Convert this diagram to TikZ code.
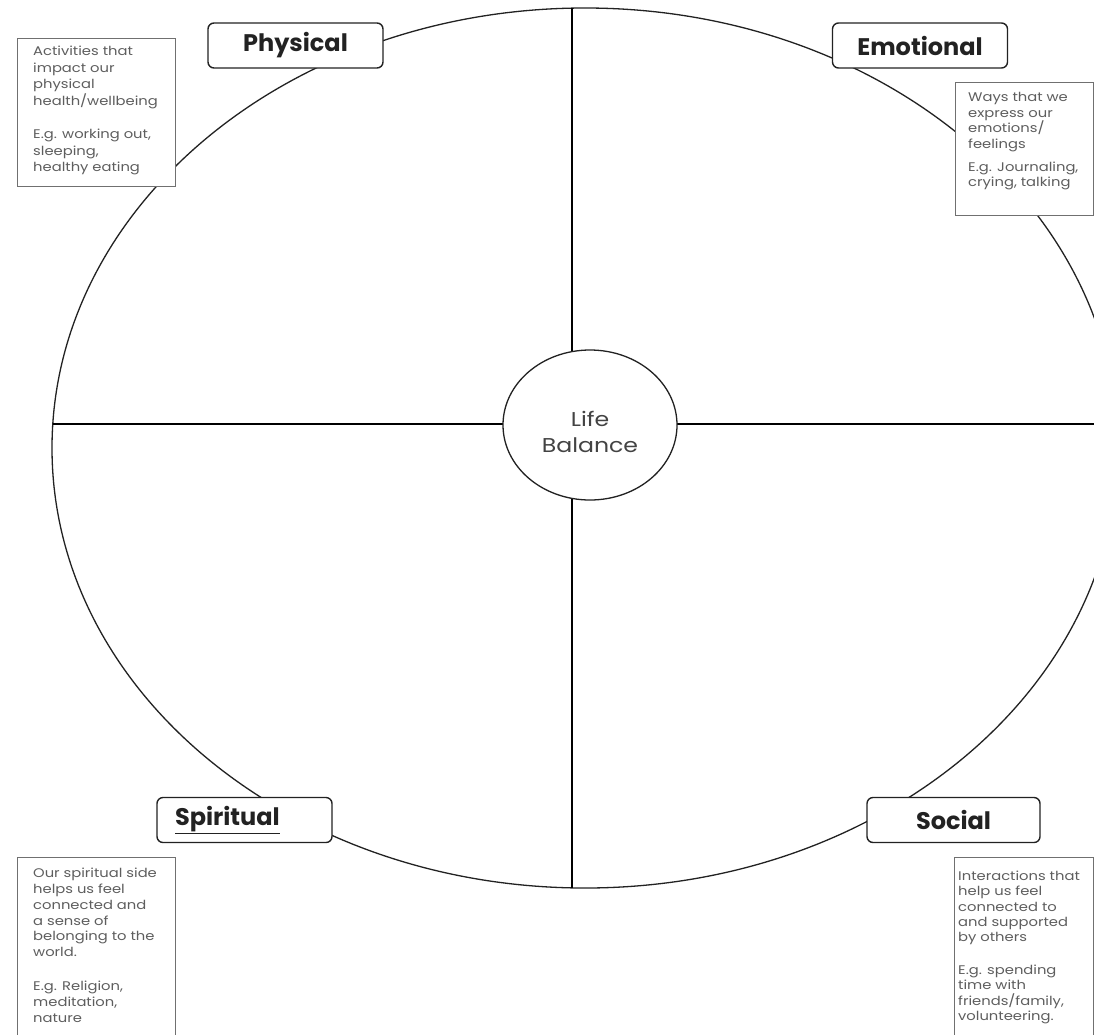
\documentclass[tikz,border=0pt]{standalone}
\usepackage{fontspec}
\setmainfont{Poppins}
\newfontfamily\widefont[FakeStretch=1.18]{Poppins}
\usetikzlibrary{shapes.geometric}
\definecolor{ink}{HTML}{222222}
\definecolor{desc}{HTML}{5E5E5E}
\definecolor{boxline}{HTML}{707070}
\begin{document}
\begin{tikzpicture}[x=1pt,y=-1pt,
  wheel/.style={draw=ink, ellipse, line width=1.3pt, inner sep=0pt},
  divider/.style={draw=black, line width=1.6pt},
  hubstyle/.style={draw=ink, fill=white, ellipse, line width=1.3pt, inner sep=0pt, align=center, text=ink!85, font=\widefont\fontsize{20}{26}\selectfont},
  labelbox/.style={draw=ink, fill=white, rounded corners=6pt, line width=1.4pt, minimum width=175pt, minimum height=45pt, font=\fontsize{24}{28}\selectfont\bfseries, text=ink, inner sep=0pt},
  descbox/.style={draw=boxline, fill=white, line width=1pt, anchor=north west, inner sep=0pt},
  desctext/.style={anchor=north west, inner sep=0pt, align=left, text=desc}
]
\useasboundingbox (0,0) rectangle (1094,1034);
\clip (0,0) rectangle (1094,1034);
\fill[white] (0,0) rectangle (1094,1034);
% outer wheel
\node[wheel, minimum width=1066pt, minimum height=880pt] (wheel) at (585,448) {};
% dividers
\coordinate (vtop) at (572,8);
\coordinate (vbot) at (572,888);
\coordinate (hleft) at (53,424);
\coordinate (hright) at (1118,424);
\draw[divider] (vtop) -- (vbot);
\draw[divider] (hleft) -- (hright);
% hub
\node[hubstyle, minimum width=174pt, minimum height=150pt] (hub) at (590,425) {\rule{0pt}{29pt}Life\\Balance};
% labels
\node[labelbox] (physical) at (295.5,45.5) {Physical};
\node[labelbox] (emotional) at (920,45.5) {Emotional};
\node[labelbox, text width=139pt, align=left, inner xsep=18pt] (spiritual) at (244.5,820) {\underline{Spiritual}};
\node[labelbox, minimum width=173pt] (social) at (953.5,820) {Social};
% description boxes
\node[descbox, minimum width=158pt, minimum height=148pt] (physbox) at (17,38) {};
\node[desctext, font=\widefont\fontsize{12.5}{16.5}\selectfont] (phystext) at (33,46)
  {Activities that\\impact our\\physical\\health/wellbeing\\[17pt]E.g. working out,\\sleeping,\\healthy eating};
\node[descbox, minimum width=138pt, minimum height=133pt] (emobox) at (955,82) {};
\node[desctext, font=\widefont\fontsize{12.5}{15.5}\selectfont] (emotext) at (968,92.5)
  {Ways that we\\express our\\emotions/\\feelings\\[7.5pt]E.g. Journaling,\\crying, talking};
\node[descbox, minimum width=158pt, minimum height=200pt] (spirbox) at (17,857) {};
\node[desctext, font=\widefont\fontsize{12.5}{15.8}\selectfont] (spirtext) at (33,868)
  {Our spiritual side\\helps us feel\\connected and\\a sense of\\belonging to the\\world.\\[18pt]E.g. Religion,\\meditation,\\nature};
\node[descbox, minimum width=139pt, minimum height=200pt] (socbox) at (954,857) {};
\node[desctext, font=\widefont\fontsize{12.5}{15.2}\selectfont] (soctext) at (958,871)
  {Interactions that\\help us feel\\connected to\\and supported\\by others\\[18pt]E.g. spending\\time with\\friends/family,\\volunteering.};
\end{tikzpicture}
\end{document}
